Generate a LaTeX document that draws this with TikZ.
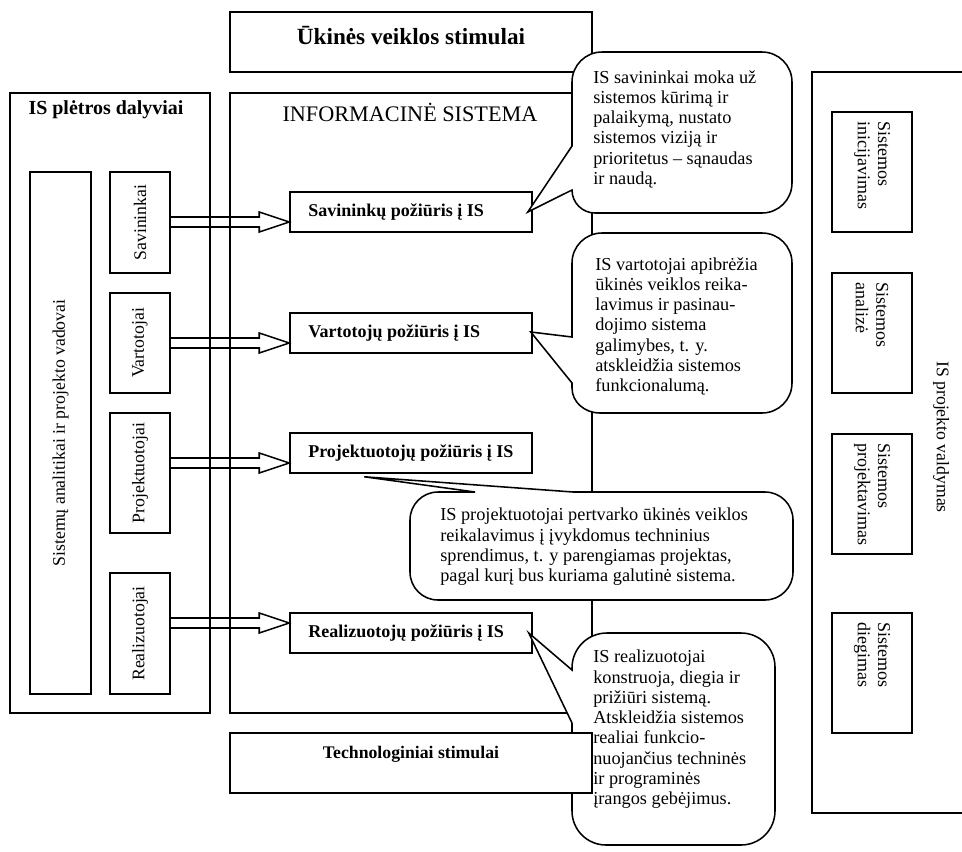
\documentclass[tikz,border=0pt]{standalone}
\usepackage{fontspec}
\setmainfont{Liberation Serif}
\usepackage{tikz}
\usetikzlibrary{calc,fit}

% hollow block arrow from a role box to the tip on a view box
\newcommand\hollowarrow[2]{%
  \draw[hollow] ($(#1.east |- #2)+(0,-5)$) -- ($(#2)+(-30,-5)$) -- ($(#2)+(-30,-10)$)
    -- (#2) -- ($(#2)+(-30,10)$) -- ($(#2)+(-30,5)$) -- ($(#1.east |- #2)+(0,5)$);}

\begin{document}
\begin{tikzpicture}[x=0.025cm,y=-0.025cm,
  frame/.style={draw,line width=1.1pt,inner sep=0pt,fill=white},
  title/.style={font=\fontsize{14.2}{16}\selectfont\bfseries,inner sep=0pt},
  role/.style={font=\fontsize{12.6}{14}\selectfont,rotate=90,inner sep=0pt},
  view/.style={font=\fontsize{12.8}{14}\selectfont\bfseries,anchor=west,inner sep=0pt},
  phase/.style={font=\fontsize{12.8}{14.5}\selectfont,rotate=-90,align=left,anchor=west,inner sep=0pt},
  note/.style={font=\fontsize{13}{14.4}\selectfont,align=left,anchor=north west,inner sep=0pt},
  bubble/.style={draw,line width=1.1pt,fill=white,line join=miter},
  hollow/.style={draw,line width=1.1pt,line join=miter}
]
\useasboundingbox (0,0) rectangle (962,851);

% participants
\node[frame,fit={(10,93)(210,713)}] (dalyv) {};
\node[title] (dalyvt) at (106,110) {IS plėtros dalyviai};
\node[frame,fit={(30,172)(91,694)}] (anal) {};
\node[role] at (anal.center) {Sistemų analitikai ir projekto vadovai};
\node[frame,fit={(110,172)(170,273)}] (sav) {};
\node[role] at (sav.center) {Savininkai};
\node[frame,fit={(110,293)(170,393)}] (var) {};
\node[role] at (var.center) {Vartotojai};
\node[frame,fit={(110,413)(170,533)}] (proj) {};
\node[role] at (proj.center) {Projektuotojai};
\node[frame,fit={(110,573)(170,694)}] (real) {};
\node[role] at (real.center) {Realizuotojai};

% information system
\node[frame,fit={(230,93)(592,713)}] (infosys) {};
\node[font=\fontsize{15.8}{18}\selectfont,inner sep=0pt] (infot) at (410,112) {INFORMACINĖ SISTEMA};
\node[frame,fit={(230,12)(592,72)}] (ukis) {};
\node[font=\fontsize{16.5}{18}\selectfont\bfseries,inner sep=0pt] at (411,36) {Ūkinės veiklos stimulai};

\node[frame,fit={(290,192)(532,232)}] (savv) {};
\node[view] at (308,212) {Savininkų požiūris į IS};
\node[frame,fit={(290,313)(532,353)}] (varv) {};
\node[view] at (308,333) {Vartotojų požiūris į IS};
\node[frame,fit={(290,433)(532,473)}] (projv) {};
\node[view] at (308,453) {Projektuotojų požiūris į IS};
\node[frame,fit={(290,613)(532,653)}] (realv) {};
\node[view] at (308,633) {Realizuotojų požiūris į IS};

\coordinate (savtip) at ($(savv.west)+(0,10)$);
\coordinate (vartip) at ($(varv.west)+(0,10)$);
\coordinate (projtip) at ($(projv.west)+(0,10)$);
\coordinate (realtip) at ($(realv.west)+(0,-10)$);
\hollowarrow{sav}{savtip}
\hollowarrow{var}{vartip}
\hollowarrow{proj}{projtip}
\hollowarrow{real}{realtip}

% callouts
\coordinate (tip1) at ($(savv.east)+(-5,0)$);
\coordinate (tip2) at ($(varv.east)+(-2,-1)$);
\coordinate (tip3) at ($(projv.south west)+(75,3)$);
\coordinate (tip4) at ($(realv.east)+(-4,0)$);
\draw[bubble] (572,146) -- (572,82) .. controls (572,65.4) and (585.4,52) .. (602,52) -- (762,52)
  .. controls (778.6,52) and (792,65.4) .. (792,82) -- (792,183)
  .. controls (792,199.6) and (778.6,213) .. (762,213) -- (595,213)
  .. controls (582.3,213) and (572,202.7) .. (572,190) -- (tip1) -- cycle;
\node[note] (b1) at (593,70) {IS savininkai moka už\\sistemos kūrimą ir\\palaikymą, nustato\\sistemos viziją ir\\prioritetus – sąnaudas\\ir naudą.};
\draw[bubble] (572,337) -- (572,263) .. controls (572,246.4) and (585.4,233) .. (602,233) -- (762,233)
  .. controls (778.6,233) and (792,246.4) .. (792,263) -- (792,383)
  .. controls (792,399.6) and (778.6,413) .. (762,413) -- (600,413)
  .. controls (584.5,413) and (572,402) .. (572,388) -- (572,383) -- (tip2) -- cycle;
\node[note] (b2) at (595,257) {IS vartotojai apibrėžia\\ūkinės veiklos reika-\\lavimus ir pasinau-\\dojimo sistema\\galimybes, t. y.\\atskleidžia sistemos\\funkcionalumą.};
\draw[bubble] (410,520) .. controls (410,504.5) and (422.5,492) .. (438,492) -- (475,492) -- (tip3)
  -- (573,492) -- (765,492) .. controls (780.5,492) and (793,504.5) .. (793,520) -- (793,572)
  .. controls (793,587.5) and (780.5,600) .. (765,600) -- (438,600)
  .. controls (422.5,600) and (410,587.5) .. (410,572) -- cycle;
\node[note] (b3) at (440,508) {IS projektuotojai pertvarko ūkinės veiklos\\reikalavimus į įvykdomus techninius\\sprendimus, t. y parengiamas projektas,\\pagal kurį bus kuriama galutinė sistema.};
\draw[bubble] (572,670) -- (572,668) .. controls (572,648.7) and (587.3,633) .. (607,633) -- (741,633)
  .. controls (759.8,633) and (775,648.2) .. (775,667) -- (775,811)
  .. controls (775,829.8) and (759.8,845) .. (741,845) -- (606,845)
  .. controls (587.2,845) and (572,829.8) .. (572,811) -- (572,723) -- (tip4) -- cycle;
\node[note] (b4) at (593,650) {IS realizuotojai\\konstruoja, diegia ir\\prižiūri sistemą.\\Atskleidžia sistemos\\realiai funkcio-\\nuojančius techninės\\ir programinės\\įrangos gebėjimus.};

\node[frame,fit={(230,733)(592,793)}] (tech) {};
\node[font=\fontsize{12.6}{14}\selectfont\bfseries,inner sep=0pt] at (411,754) {Technologiniai stimulai};

% project management
\node[frame,fit={(812,72)(975,813)}] (valdym) {};
\node[font=\fontsize{12.6}{14}\selectfont,rotate=-90,inner sep=0pt] at (941,437) {IS projekto valdymas};
\node[frame,fit={(832,112)(912,232)}] (inic) {};
\node[phase] at ($(inic.north)+(0,10)$) {Sistemos\\inicijavimas};
\node[frame,fit={(832,273)(912,393)}] (anali) {};
\node[phase] at ($(anali.north)+(0,10)$) {Sistemos\\analizė};
\node[frame,fit={(832,434)(912,554)}] (projk) {};
\node[phase] at ($(projk.north)+(0,10)$) {Sistemos\\projektavimas};
\node[frame,fit={(832,613)(912,733)}] (dieg) {};
\node[phase] at ($(dieg.north)+(0,10)$) {Sistemos\\diegimas};
\end{tikzpicture}
\end{document}
